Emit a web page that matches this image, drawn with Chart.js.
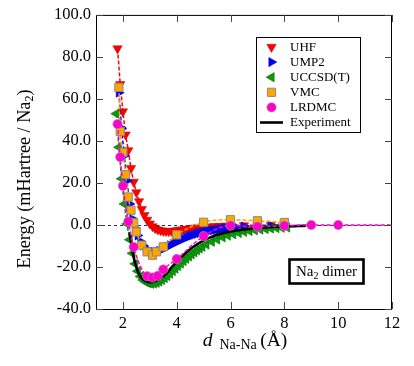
<!DOCTYPE html>
<html>
<head>
<meta charset="utf-8">
<script src="https://cdn.jsdelivr.net/npm/chart.js@4.4.1/dist/chart.umd.min.js"></script>
<style>
  html, body { margin: 0; padding: 0; background: #fff; }
  #wrap { width: 414px; height: 366px; position: relative; }
</style>
</head>
<body>
<div id="wrap"><canvas id="chart"></canvas></div>
<script>
/* ─── Data (d in Å, energy in mHartree / Na2) ───────────────────────── */
const X_TICKS = [2, 4, 6, 8, 10, 12];
const Y_TICKS = [-40, -20, 0, 20, 40, 60, 80, 100];

const uhf = [
  [1.8,84],[1.9,67],[2.0,54],[2.1,43],[2.2,35.5],[2.3,27],[2.4,20.5],[2.5,15.5],
  [2.6,11.2],[2.7,7.5],[2.8,4.6],[2.9,2.4],[3.0,0.6],[3.1,-0.7],[3.2,-1.6],[3.3,-2.2],
  [3.4,-2.6],[3.5,-2.9],[3.6,-3.0],[3.7,-3.0],[3.8,-2.9],[3.9,-2.8],[4.0,-2.6],[4.1,-2.4],
  [4.2,-2.2],[4.3,-2.0],[4.4,-1.9],[4.5,-1.7],[4.6,-1.5],[4.7,-1.4],[4.8,-1.2],[4.9,-1.1],
  [5.0,-1.0],[5.2,-0.8],[5.4,-0.6],[5.6,-0.5],[5.8,-0.4],[6.0,-0.3],[6.5,-0.2],[7.0,-0.1],
  [7.5,-0.1],[8.0,0.0],
];
const ump2 = [
  [1.85,63],[1.95,46],[2.05,33],[2.15,21],[2.25,10],[2.35,3],[2.45,-1.5],[2.55,-5],
  [2.65,-7.8],[2.75,-9.8],[2.85,-11.2],[2.95,-12.1],[3.05,-12.6],[3.15,-12.8],[3.25,-12.7],
  [3.35,-12.3],[3.45,-11.6],[3.55,-11.0],[3.65,-10.4],[3.75,-9.7],[3.85,-9.0],[3.95,-8.4],
  [4.05,-7.8],[4.15,-7.2],[4.25,-6.6],[4.35,-6.0],[4.45,-5.5],[4.55,-5.0],[4.65,-4.6],
  [4.75,-4.2],[4.85,-3.8],[4.95,-3.5],[5.05,-3.2],[5.15,-2.9],[5.25,-2.7],[5.35,-2.5],
  [5.45,-2.3],[5.55,-2.1],[5.65,-1.9],[5.75,-1.7],[5.85,-1.6],[5.95,-1.4],[6.2,-1.0],
  [6.5,-0.7],[7.0,-0.4],[7.5,-0.2],[8.0,-0.1],
];
const uccsdt = [
  [1.75,53],[1.85,37],[1.95,22],[2.05,10],[2.15,0.5],[2.25,-7],[2.35,-13.5],[2.45,-18.5],
  [2.55,-22],[2.65,-24.5],[2.75,-26.2],[2.85,-27.2],[2.95,-27.8],[3.05,-28.0],[3.15,-27.9],
  [3.25,-27.5],[3.35,-26.9],[3.45,-26.2],[3.55,-25.3],[3.65,-24.3],[3.75,-23.2],[3.85,-22.0],
  [3.95,-20.8],[4.05,-19.6],[4.15,-18.4],[4.25,-17.2],[4.35,-16.1],[4.45,-15.0],[4.55,-14.0],
  [4.65,-13.0],[4.75,-12.1],[4.85,-11.2],[4.95,-10.4],[5.1,-9.3],[5.3,-8.0],[5.5,-6.9],
  [5.7,-5.9],[5.9,-5.1],[6.1,-4.4],[6.3,-3.8],[6.5,-3.3],[6.7,-2.9],[6.9,-2.5],[7.1,-2.2],
  [7.3,-1.9],[7.5,-1.7],[7.7,-1.5],[7.9,-1.3],[8.1,-1.2],
];
const vmc = [
  [1.85,65.5],[1.9,44.5],[2.0,34.6],[2.1,24],[2.2,13.3],[2.3,7],[2.4,1.0],[2.5,-3.3],
  [2.7,-9.6],[2.9,-12.8],[3.1,-14.4],[3.25,-12.8],[3.5,-10.4],[4.0,-4.7],[5.0,1.3],
  [6.0,2.5],[7.0,2.0],[8.0,1.2],
];
const lrdmc = [
  [1.8,48],[1.9,32.3],[2.0,18.6],[2.2,1.6],[2.4,-10.5],[2.9,-24.4],[3.1,-25.0],[3.3,-24.2],
  [3.5,-21.2],[4.0,-16.2],[5.0,-5.3],[6.0,-0.3],[7.0,-0.8],[8.0,-0.4],[9.0,0],[10.0,0],[12.0,0],
];
const expt = [
  [2.25,-3.3],[2.3,-8],[2.35,-12],[2.4,-15.3],[2.45,-18],[2.5,-20.2],[2.55,-22],[2.6,-23.4],
  [2.7,-25.3],[2.8,-26.4],[2.9,-27.0],[3.0,-27.2],[3.1,-27.1],[3.2,-26.7],[3.3,-26.1],
  [3.4,-25.3],[3.5,-24.4],[3.6,-23.3],[3.7,-22.0],[3.8,-20.3],[3.9,-18.9],[4.0,-17.5],
  [4.2,-14.9],[4.4,-12.6],[4.6,-10.6],[4.8,-8.9],[5.0,-7.4],[5.25,-5.9],[5.5,-4.7],
  [5.75,-3.8],[6.0,-3.1],[6.5,-2.1],[7.0,-1.4],[7.5,-1.0],[8.0,-0.7],[8.5,-0.5],[8.8,-0.4],
];

/* ─── Style ─────────────────────────────────────────────────────────── */
const SERIF = "'Liberation Serif', 'Times New Roman', serif";
const pts = arr => arr.map(([x, y]) => ({ x, y }));

const datasets = [
  { label: "UHF", data: pts(uhf), order: 6,
    borderColor: "#ff0000", borderDash: [4, 2], borderWidth: 1.5,
    pointStyle: "triangle", rotation: 180, pointRadius: 5.4,
    pointBackgroundColor: "#ff0000", pointBorderColor: "#c00000", pointBorderWidth: 0.5 },
  { label: "UMP2", data: pts(ump2), order: 5,
    borderColor: "#0000ff", borderDash: [4, 2], borderWidth: 1.5,
    pointStyle: "triangle", rotation: 90, pointRadius: 5.4,
    pointBackgroundColor: "#0000ff", pointBorderColor: "#0000b0", pointBorderWidth: 0.5 },
  { label: "UCCSD(T)", data: pts(uccsdt), order: 4,
    borderColor: "#009a00", borderDash: [4, 2], borderWidth: 1.5,
    pointStyle: "triangle", rotation: -90, pointRadius: 5.4,
    pointBackgroundColor: "#0a9a0a", pointBorderColor: "#006000", pointBorderWidth: 0.5 },
  { label: "VMC", data: pts(vmc), order: 3, cubicInterpolationMode: "monotone",
    borderColor: "#ffa500", borderDash: [4, 2], borderWidth: 1.5,
    pointStyle: "rect", pointRadius: 5.8,
    pointBackgroundColor: "#ffa500", pointBorderColor: "#8a8a8a", pointBorderWidth: 1 },
  { label: "LRDMC", data: pts(lrdmc), order: 1, cubicInterpolationMode: "monotone",
    borderColor: "#ff00cc", borderDash: [4, 2], borderWidth: 1.5,
    pointStyle: "circle",
    pointRadius: c => (c.raw && c.raw.x > 11 ? 0 : 4.7),
    pointBackgroundColor: "#ff00cc", pointBorderColor: "#a0a0a0", pointBorderWidth: 0.6 },
  { label: "Experiment", data: pts(expt), order: 2, cubicInterpolationMode: "monotone",
    borderColor: "#000000", borderWidth: 2.6, pointRadius: 0 },
];
datasets.forEach(d => { d.showLine = true; d.fill = false; d.pointHoverRadius = d.pointRadius; });

/* ─── Helpers ───────────────────────────────────────────────────────── */
function subText(ctx, parts, x, y) {
  // parts: [text, size, italic, dy]
  let cx = x;
  parts.forEach(([t, size, italic, dy]) => {
    ctx.font = `${italic ? "italic " : ""}${size}px ${SERIF}`;
    ctx.fillText(t, cx, y + (dy || 0));
    cx += ctx.measureText(t).width;
  });
  return cx - x;
}
function partsWidth(ctx, parts) {
  return parts.reduce((w, [t, size, italic]) => {
    ctx.font = `${italic ? "italic " : ""}${size}px ${SERIF}`;
    return w + ctx.measureText(t).width;
  }, 0);
}

/* ─── Frame, ticks, legend, labels ─────────────────────────────────── */
const decor = {
  id: "decor",
  beforeDatasetsDraw(chart) {
    const { ctx, chartArea: a, scales: { y } } = chart;
    const y0 = Math.round(y.getPixelForValue(0)) + 0.5;
    ctx.save();
    ctx.strokeStyle = "#000";
    ctx.lineWidth = 0.8;
    ctx.setLineDash([3, 3]);
    ctx.beginPath(); ctx.moveTo(a.left, y0); ctx.lineTo(a.right, y0); ctx.stroke();
    ctx.restore();
  },
  afterDraw(chart) {
    const { ctx, chartArea: a, scales: { x, y } } = chart;
    ctx.save();
    ctx.strokeStyle = "#000";
    ctx.lineWidth = 1;
    ctx.strokeRect(a.left + 0.5, a.top + 0.5, a.right - a.left - 1, a.bottom - a.top);

    // inward ticks on all four sides
    const TL = 7;
    ctx.strokeStyle = "#444";
    ctx.beginPath();
    X_TICKS.forEach(v => {
      const px = Math.round(x.getPixelForValue(v)) + 0.5;
      ctx.moveTo(px, a.bottom); ctx.lineTo(px, a.bottom - TL);
      ctx.moveTo(px, a.top); ctx.lineTo(px, a.top + TL);
    });
    Y_TICKS.forEach(v => {
      const py = Math.round(y.getPixelForValue(v)) + 0.5;
      ctx.moveTo(a.left, py); ctx.lineTo(a.left + TL, py);
      ctx.moveTo(a.right, py); ctx.lineTo(a.right - TL, py);
    });
    ctx.stroke();

    // legend box
    const lx = 256, ly = 37, lw = 104, lh = 95;
    ctx.fillStyle = "#fff";
    ctx.fillRect(lx, ly, lw, lh);
    ctx.strokeStyle = "#000";
    ctx.lineWidth = 1;
    ctx.strokeRect(lx + 0.5, ly + 0.5, lw, lh);
    ctx.textBaseline = "middle";
    ctx.textAlign = "left";
    chart.data.datasets.forEach((d, i) => {
      const cy = ly + 10 + i * 15.1;
      if (d.pointStyle) {
        ctx.fillStyle = d.pointBackgroundColor;
        ctx.strokeStyle = d.pointBorderColor;
        ctx.lineWidth = d.pointBorderWidth;
        Chart.helpers.drawPoint(ctx, {
          pointStyle: d.pointStyle, rotation: d.rotation || 0,
          radius: d.label === "LRDMC" ? 4.7 : d.pointRadius, borderWidth: d.pointBorderWidth,
        }, lx + 15.5, cy);
      } else {
        ctx.strokeStyle = d.borderColor;
        ctx.lineWidth = 2.6;
        ctx.beginPath(); ctx.moveTo(lx + 4, cy); ctx.lineTo(lx + 27, cy); ctx.stroke();
      }
      ctx.fillStyle = "#000";
      ctx.font = `13px ${SERIF}`;
      ctx.fillText(d.label, lx + 34, cy + 0.5);
    });

    // "Na2 dimer" box
    const bx = 289, by = 259, bw = 74, bh = 24;
    ctx.fillStyle = "#fff";
    ctx.fillRect(bx, by, bw, bh);
    ctx.strokeRect(bx + 0.5, by + 0.5, bw, bh);
    ctx.fillStyle = "#000";
    ctx.textBaseline = "alphabetic";
    const boxParts = [["Na", 15], ["2", 10, false, 3], [" dimer", 15]];
    const bwText = partsWidth(ctx, boxParts);
    subText(ctx, boxParts, bx + (bw - bwText) / 2 + 0.5, by + 17);

    // x title: d_Na-Na (Å)
    const xParts = [["d", 19.5, true], ["  Na-Na ", 14, false, 3], ["(Å)", 19.5]];
    const xw = partsWidth(ctx, xParts);
    subText(ctx, xParts, 245 - xw / 2, 346);

    // y title: Energy (mHartree / Na2)
    ctx.translate(25, 179);
    ctx.rotate(-Math.PI / 2);
    const yParts = [["Energy (mHartree / Na", 18.2], ["2", 12, false, 4.5], [")", 18.2]];
    const yw = partsWidth(ctx, yParts);
    ctx.textBaseline = "middle";
    subText(ctx, yParts, -yw / 2, 0);
    ctx.restore();
  },
};

/* ─── Chart ─────────────────────────────────────────────────────────── */
new Chart(document.getElementById("chart"), {
  type: "scatter",
  data: { datasets },
  options: {
    responsive: true, maintainAspectRatio: false, animation: false, devicePixelRatio: 1,
    layout: { padding: { top: 14, right: 22, left: 0, bottom: 0 } },
    plugins: { legend: { display: false }, tooltip: { enabled: false } },
    scales: {
      x: {
        type: "linear", min: 1, max: 12,
        afterBuildTicks: s => { s.ticks = X_TICKS.map(v => ({ value: v })); },
        afterFit: s => { s.height = 57; },
        grid: { display: false, drawTicks: false },
        border: { display: false },
        ticks: { color: "#000", padding: 5, maxRotation: 0, autoSkip: false,
                 font: { family: SERIF, size: 16.5 } },
      },
      y: {
        type: "linear", min: -40, max: 100,
        afterBuildTicks: s => { s.ticks = Y_TICKS.map(v => ({ value: v })); },
        afterFit: s => { s.width = 96; },
        grid: { display: false, drawTicks: false },
        border: { display: false },
        ticks: { color: "#000", padding: 5, autoSkip: false,
                 callback: v => v.toFixed(1),
                 font: { family: SERIF, size: 16.5 } },
      },
    },
  },
  plugins: [decor],
});
</script>
</body>
</html>
